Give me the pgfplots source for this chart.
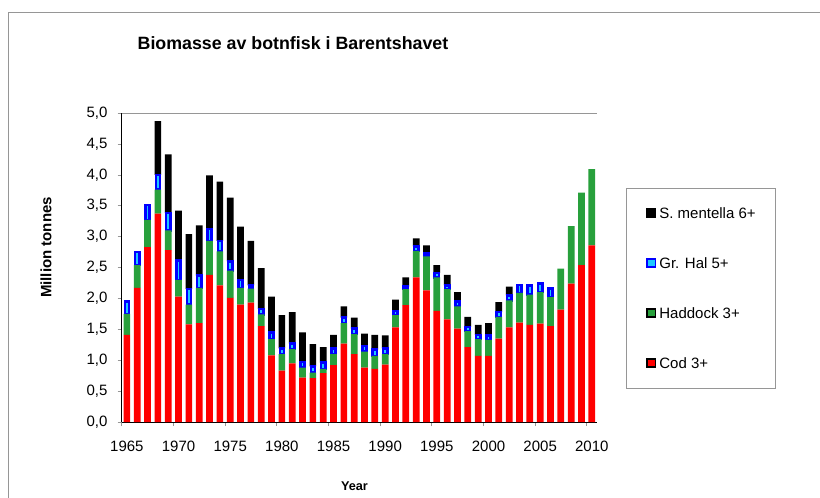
\documentclass[border=0pt]{standalone}
\usepackage{pgfplots}
\pgfplotsset{compat=1.18}
\usepackage{fontspec}
\setmainfont{Liberation Sans}
\definecolor{codred}{RGB}{255,0,0}
\definecolor{hadgreen}{RGB}{40,160,60}
\definecolor{halblue}{RGB}{0,0,255}
\definecolor{hallight}{RGB}{30,200,255}
\definecolor{framegray}{RGB}{150,150,150}
\begin{document}
\begin{tikzpicture}
\useasboundingbox (0pt,0pt) rectangle (820pt,-498pt);
\fill[white] (0pt,0pt) rectangle (820pt,-498pt);
\draw[framegray, line width=1pt] (8pt,-498pt) -- (8pt,-12pt) -- (820pt,-12pt);
\begin{axis}[
  at={(121.7pt,-422pt)}, anchor=south west,
  scale only axis, width=475.3pt, height=309pt,
  ybar stacked, bar width=6.7pt,
  xmin=1964.5, xmax=2010.5, ymin=0, ymax=5,
  enlargelimits=false,
  axis lines=left, axis line style={-, black, line width=0.8pt},
  xtick={1965,1970,...,2010},
  minor xtick={1964.5,1969.5,...,2009.5},
  major x tick style={draw=none},
  minor x tick style={framegray, line width=0.6pt},
  minor tick length=4pt,
  ytick={0,0.5,...,5},
  major tick length=4pt,
  ytick style={framegray, line width=0.6pt},
  tick align=outside,
  xticklabel style={anchor=center, yshift=-20pt, inner sep=0pt},
  yticklabel style={anchor=east, inner sep=0pt, xshift=-10pt},
  x tick label style={/pgf/number format/1000 sep={}},
  y tick label style={/pgf/number format/.cd, use comma, fixed, fixed zerofill, precision=1},
  /pgf/number format/assume math mode=true,
  tick label style={font=\fontsize{15}{18}\selectfont},
  title={Biomasse av botnfisk i Barentshavet},
  title style={at={(axis description cs:0.3604,1.207)}, anchor=center, font=\bfseries\fontsize{17.8}{21}\selectfont},
  ylabel={Million tonnes},
  ylabel style={at={(axis description cs:-0.1593,0.5647)}, anchor=center, font=\bfseries\fontsize{15}{18}\selectfont},
  xlabel={Year},
  xlabel style={at={(axis description cs:0.4898,-0.2071)}, anchor=center, font=\bfseries\fontsize{12.7}{15}\selectfont},
  reverse legend,
  legend cell align=left,
  legend style={at={(axis description cs:1.061,0.757)}, anchor=north west,
    draw=framegray, line width=0.8pt, inner xsep=20pt, inner ysep=18pt,
    font=\fontsize{15}{18}\selectfont, row sep=36pt,
    nodes={inner sep=0pt, text height=12.5pt, text depth=1.5pt}},
  every axis plot post/.append style={legend image code/.code={%
      \path[draw=none, fill=none] (0pt,0pt) -- (13pt,0pt);
      \draw[##1, line width=1.6pt] (0.8pt,-3.7pt) rectangle (9.2pt,4.7pt);}},
]
\addplot[fill=codred, draw=none] coordinates {
(1965,1.41) (1966,2.17) (1967,2.83) (1968,3.37) (1969,2.78) (1970,2.03) (1971,1.58) (1972,1.60) (1973,2.38) (1974,2.21)
(1975,2.01) (1976,1.90) (1977,1.93) (1978,1.55) (1979,1.08) (1980,0.83) (1981,0.95) (1982,0.72) (1983,0.71) (1984,0.79)
(1985,0.92) (1986,1.27) (1987,1.10) (1988,0.88) (1989,0.86) (1990,0.93) (1991,1.53) (1992,1.89) (1993,2.34) (1994,2.13)
(1995,1.80) (1996,1.66) (1997,1.51) (1998,1.21) (1999,1.07) (2000,1.07) (2001,1.35) (2002,1.53) (2003,1.61) (2004,1.57)
(2005,1.59) (2006,1.55) (2007,1.82) (2008,2.24) (2009,2.54) (2010,2.86)};
\addlegendentry{Cod 3+}
\addplot[fill=hadgreen, draw=none] coordinates {
(1965,0.34) (1966,0.37) (1967,0.44) (1968,0.39) (1969,0.32) (1970,0.27) (1971,0.32) (1972,0.57) (1973,0.55) (1974,0.55)
(1975,0.44) (1976,0.27) (1977,0.23) (1978,0.19) (1979,0.26) (1980,0.27) (1981,0.23) (1982,0.16) (1983,0.09) (1984,0.07)
(1985,0.18) (1986,0.33) (1987,0.32) (1988,0.26) (1989,0.21) (1990,0.17) (1991,0.20) (1992,0.26) (1993,0.43) (1994,0.55)
(1995,0.54) (1996,0.49) (1997,0.36) (1998,0.26) (1999,0.27) (2000,0.26) (2001,0.35) (2002,0.44) (2003,0.48) (2004,0.49)
(2005,0.51) (2006,0.47) (2007,0.66) (2008,0.93) (2009,1.17) (2010,1.23)};
\addlegendentry{Haddock 3+}
\addplot[fill=hallight, draw=halblue, line width=2.5pt, bar width=4.2pt] coordinates {
(1965,0.20) (1966,0.21) (1967,0.24) (1968,0.24) (1969,0.28) (1970,0.31) (1971,0.25) (1972,0.20) (1973,0.19) (1974,0.17)
(1975,0.15) (1976,0.13) (1977,0.05) (1978,0.09) (1979,0.11) (1980,0.09) (1981,0.09) (1982,0.09) (1983,0.10) (1984,0.10)
(1985,0.09) (1986,0.09) (1987,0.09) (1988,0.09) (1989,0.10) (1990,0.09) (1991,0.07) (1992,0.04) (1993,0.07) (1994,0.05)
(1995,0.07) (1996,0.06) (1997,0.08) (1998,0.07) (1999,0.07) (2000,0.07) (2001,0.08) (2002,0.08) (2003,0.13) (2004,0.15)
(2005,0.14) (2006,0.14)};
\addlegendentry{Gr. Hal 5+}
\addplot[fill=black, draw=none] coordinates {
(1965,0) (1966,0) (1967,0) (1968,0.87) (1969,0.95) (1970,0.81) (1971,0.89) (1972,0.81) (1973,0.87) (1974,0.96)
(1975,1.03) (1976,0.86) (1977,0.72) (1978,0.66) (1979,0.58) (1980,0.54) (1981,0.51) (1982,0.48) (1983,0.36) (1984,0.25)
(1985,0.22) (1986,0.18) (1987,0.18) (1988,0.20) (1989,0.24) (1990,0.21) (1991,0.18) (1992,0.15) (1993,0.13) (1994,0.13)
(1995,0.13) (1996,0.17) (1997,0.15) (1998,0.16) (1999,0.16) (2000,0.20) (2001,0.16) (2002,0.14)};
\addlegendentry{S. mentella 6+}
\draw[framegray, line width=0.8pt] (rel axis cs:0,1) -- (rel axis cs:1,1) -- (rel axis cs:1,0);
\end{axis}
\end{tikzpicture}
\end{document}
